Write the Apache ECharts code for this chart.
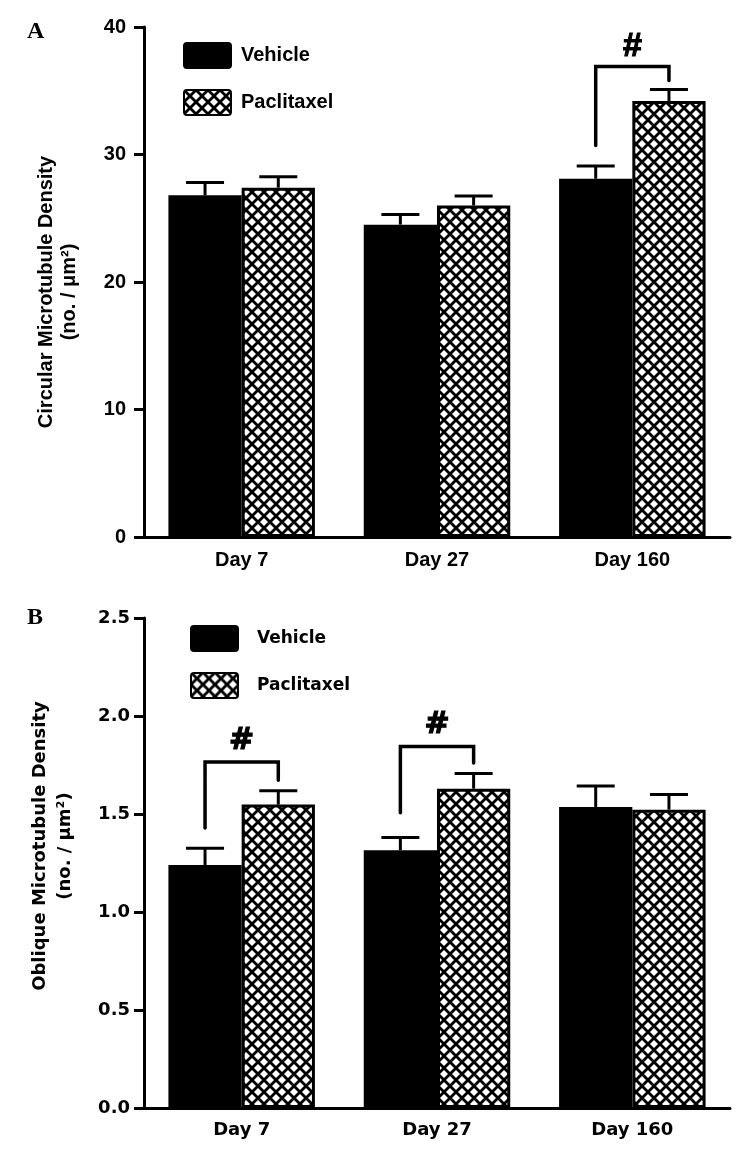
<!DOCTYPE html>
<html>
<head>
<meta charset="utf-8">
<script src="https://cdn.jsdelivr.net/npm/echarts@6/dist/echarts.min.js"></script>
<style>html,body{margin:0;padding:0;background:#fff}#c{width:756px;height:1155px}</style>
</head>
<body>
<div id="c"></div>
<script>
// ---- data ----
const categories = ['Day 7', 'Day 27', 'Day 160'];
// Panel A: circular microtubule density
const aVehicle = [26.8, 24.5, 28.1];
const aVehicleSem = [1.0, 0.8, 1.0];
const aPaclitaxel = [27.4, 26.0, 34.2];
const aPaclitaxelSem = [0.85, 0.75, 0.9];
// bracket: [category, left bottom, top, right bottom]
const aBrackets = [[2, 30.7, 36.9, 35.8]];
// Panel B: oblique microtubule density
const bVehicle = [1.24, 1.315, 1.536];
const bVehicleSem = [0.085, 0.065, 0.107];
const bPaclitaxel = [1.548, 1.629, 1.522];
const bPaclitaxelSem = [0.07, 0.077, 0.078];
const bBrackets = [[0, 1.429, 1.765, 1.672], [1, 1.507, 1.845, 1.76]];
const aTicks = {min: 0, max: 40, interval: 10};
const bTicks = {min: 0, max: 2.5, interval: 0.5};

// ---- styling helpers ----
function makeHatch() {
  const s = 12;
  const c = document.createElement('canvas');
  c.width = s; c.height = s;
  const g = c.getContext('2d');
  g.fillStyle = '#fff'; g.fillRect(0, 0, s, s);
  g.strokeStyle = '#000'; g.lineWidth = 2.8;
  for (const o of [-s, 0, s]) {
    g.beginPath(); g.moveTo(o, 0); g.lineTo(o + s, s); g.stroke();
    g.beginPath(); g.moveTo(o + s, 0); g.lineTo(o, s); g.stroke();
  }
  return c;
}
const hatch = {image: makeHatch(), repeat: 'repeat'};

const FA = 'Liberation Sans, Arial, sans-serif';
const FB = 'DejaVu Sans, Verdana, sans-serif';
const legendIcon = 'path://M3,0 H44 Q47,0 47,3 V22 Q47,25 44,25 H3 Q0,25 0,22 V3 Q0,0 3,0 Z';

function errData(mean, sem) { return mean.map((m, i) => [i, m, m + sem[i]]); }

function errRender(sign) {
  return function (params, api) {
    const cat = api.value(0);
    const c = api.coord([cat, api.value(1)]);
    const t = api.coord([cat, api.value(2)]);
    const band = api.size([1, 0])[0];
    const x = c[0] + sign * band * 0.1875;
    const half = 19;
    return {type: 'group', children: [
      {type: 'line', shape: {x1: x, y1: c[1], x2: x, y2: t[1]}, style: {stroke: '#000', lineWidth: 3}},
      {type: 'line', shape: {x1: x - half, y1: t[1], x2: x + half, y2: t[1]}, style: {stroke: '#000', lineWidth: 3}}
    ]};
  };
}

function bracketRender(font, gap) {
  return function (params, api) {
    const cat = api.value(0);
    const band = api.size([1, 0])[0];
    const cx = api.coord([cat, 0])[0];
    const xl = cx - band * 0.1875, xr = cx + band * 0.1875;
    const yl = api.coord([cat, api.value(1)])[1];
    const yt = api.coord([cat, api.value(2)])[1];
    const yr = api.coord([cat, api.value(3)])[1];
    return {type: 'group', children: [
      {type: 'polyline', shape: {points: [[xl, yl], [xl, yt], [xr, yt], [xr, yr]]},
        style: {stroke: '#000', lineWidth: 3.5, fill: null, lineCap: 'round'}},
      {type: 'text', style: {text: '#', x: (xl + xr) / 2, y: yt - gap, align: 'center', verticalAlign: 'bottom',
        font: font, fill: '#000', stroke: '#000', lineWidth: 1.2}}
    ]};
  };
}

function yAxis(gridIndex, ticks, font, size, fmt, name, nameGap, lh, pad, labelMargin) {
  return {
    type: 'value', gridIndex, min: ticks.min, max: ticks.max, interval: ticks.interval,
    axisLine: {show: true, lineStyle: {color: '#000', width: 3}},
    axisTick: {show: true, length: 10, lineStyle: {color: '#000', width: 3}},
    splitLine: {show: false},
    axisLabel: {color: '#000', fontFamily: font, fontWeight: 'bold', fontSize: size, margin: labelMargin, formatter: fmt},
    name, nameLocation: 'middle', nameGap,
    nameTextStyle: {color: '#000', fontFamily: font, fontWeight: 'bold', fontSize: size, lineHeight: lh, padding: pad}
  };
}
function xAxis(gridIndex, font, size) {
  return {
    type: 'category', gridIndex, data: categories,
    axisLine: {show: true, lineStyle: {color: '#000', width: 3}},
    axisTick: {show: false},
    axisLabel: {color: '#000', fontFamily: font, fontWeight: 'bold', fontSize: size, margin: 13}
  };
}

const barCommon = {type: 'bar', barGap: '0%', barCategoryGap: '25%'};

const option = {
  animation: false,
  backgroundColor: '#fff',
  grid: [
    {left: 144, width: 586, top: 27, height: 510},
    {left: 144, width: 586, top: 618, height: 490}
  ],
  xAxis: [xAxis(0, FA, 20), xAxis(1, FB, 18)],
  yAxis: [
    yAxis(0, aTicks, FA, 20, v => String(v), 'Circular Microtubule Density\n(no. / \u03bcm\u00b2)', 63, 23, [0, 20, 0, 0], 18),
    yAxis(1, bTicks, FB, 18, v => v.toFixed(1), 'Oblique Microtubule Density\n(no. / \u03bcm\u00b2)', 66, 25, [0, 0, 0, 34], 14)
  ],
  legend: [
    {orient: 'vertical', left: 183, top: 42, padding: 0, itemWidth: 47, itemHeight: 25, itemGap: 20, icon: legendIcon,
      data: ['Vehicle', 'Paclitaxel'],
      textStyle: {color: '#000', fontFamily: FA, fontWeight: 'bold', fontSize: 20, padding: [0, 0, 0, 5]}},
    {orient: 'vertical', left: 190, top: 625, padding: 0, itemWidth: 47, itemHeight: 26, itemGap: 20, icon: legendIcon,
      data: ['Vehicle', 'Paclitaxel'],
      textStyle: {color: '#000', fontFamily: FB, fontWeight: 'bold', fontSize: 17, padding: [0, 0, 0, 14]}}
  ],
  graphic: [
    {type: 'text', left: 27, top: 20, style: {text: 'A', font: 'bold 24px Liberation Serif, Times New Roman, serif', fill: '#000'}},
    {type: 'text', left: 27, top: 606, style: {text: 'B', font: 'bold 24px Liberation Serif, Times New Roman, serif', fill: '#000'}}
  ],
  series: [
    Object.assign({}, barCommon, {name: 'Vehicle', xAxisIndex: 0, yAxisIndex: 0, data: aVehicle,
      itemStyle: {color: '#000', borderColor: '#000', borderWidth: 2}}),
    Object.assign({}, barCommon, {name: 'Paclitaxel', xAxisIndex: 0, yAxisIndex: 0, data: aPaclitaxel,
      itemStyle: {color: hatch, borderColor: '#000', borderWidth: 3}}),
    Object.assign({}, barCommon, {name: 'Vehicle', xAxisIndex: 1, yAxisIndex: 1, data: bVehicle,
      itemStyle: {color: '#000', borderColor: '#000', borderWidth: 2}}),
    Object.assign({}, barCommon, {name: 'Paclitaxel', xAxisIndex: 1, yAxisIndex: 1, data: bPaclitaxel,
      itemStyle: {color: hatch, borderColor: '#000', borderWidth: 3}}),
    {type: 'custom', name: 'errA1', xAxisIndex: 0, yAxisIndex: 0, z: 5, renderItem: errRender(-1),
      encode: {x: 0, y: [1, 2]}, data: errData(aVehicle, aVehicleSem)},
    {type: 'custom', name: 'errA2', xAxisIndex: 0, yAxisIndex: 0, z: 5, renderItem: errRender(1),
      encode: {x: 0, y: [1, 2]}, data: errData(aPaclitaxel, aPaclitaxelSem)},
    {type: 'custom', name: 'errB1', xAxisIndex: 1, yAxisIndex: 1, z: 5, renderItem: errRender(-1),
      encode: {x: 0, y: [1, 2]}, data: errData(bVehicle, bVehicleSem)},
    {type: 'custom', name: 'errB2', xAxisIndex: 1, yAxisIndex: 1, z: 5, renderItem: errRender(1),
      encode: {x: 0, y: [1, 2]}, data: errData(bPaclitaxel, bPaclitaxelSem)},
    {type: 'custom', name: 'sigA', xAxisIndex: 0, yAxisIndex: 0, z: 5,
      renderItem: bracketRender('bold 34px Liberation Sans, Arial, sans-serif', 3),
      encode: {x: 0, y: [1, 2, 3]}, data: aBrackets},
    {type: 'custom', name: 'sigB', xAxisIndex: 1, yAxisIndex: 1, z: 5,
      renderItem: bracketRender('bold 30px DejaVu Sans, Verdana, sans-serif', 6),
      encode: {x: 0, y: [1, 2, 3]}, data: bBrackets}
  ]
};

const chart = echarts.init(document.getElementById('c'), null, {renderer: 'canvas'});
chart.setOption(option);
</script>
</body>
</html>
